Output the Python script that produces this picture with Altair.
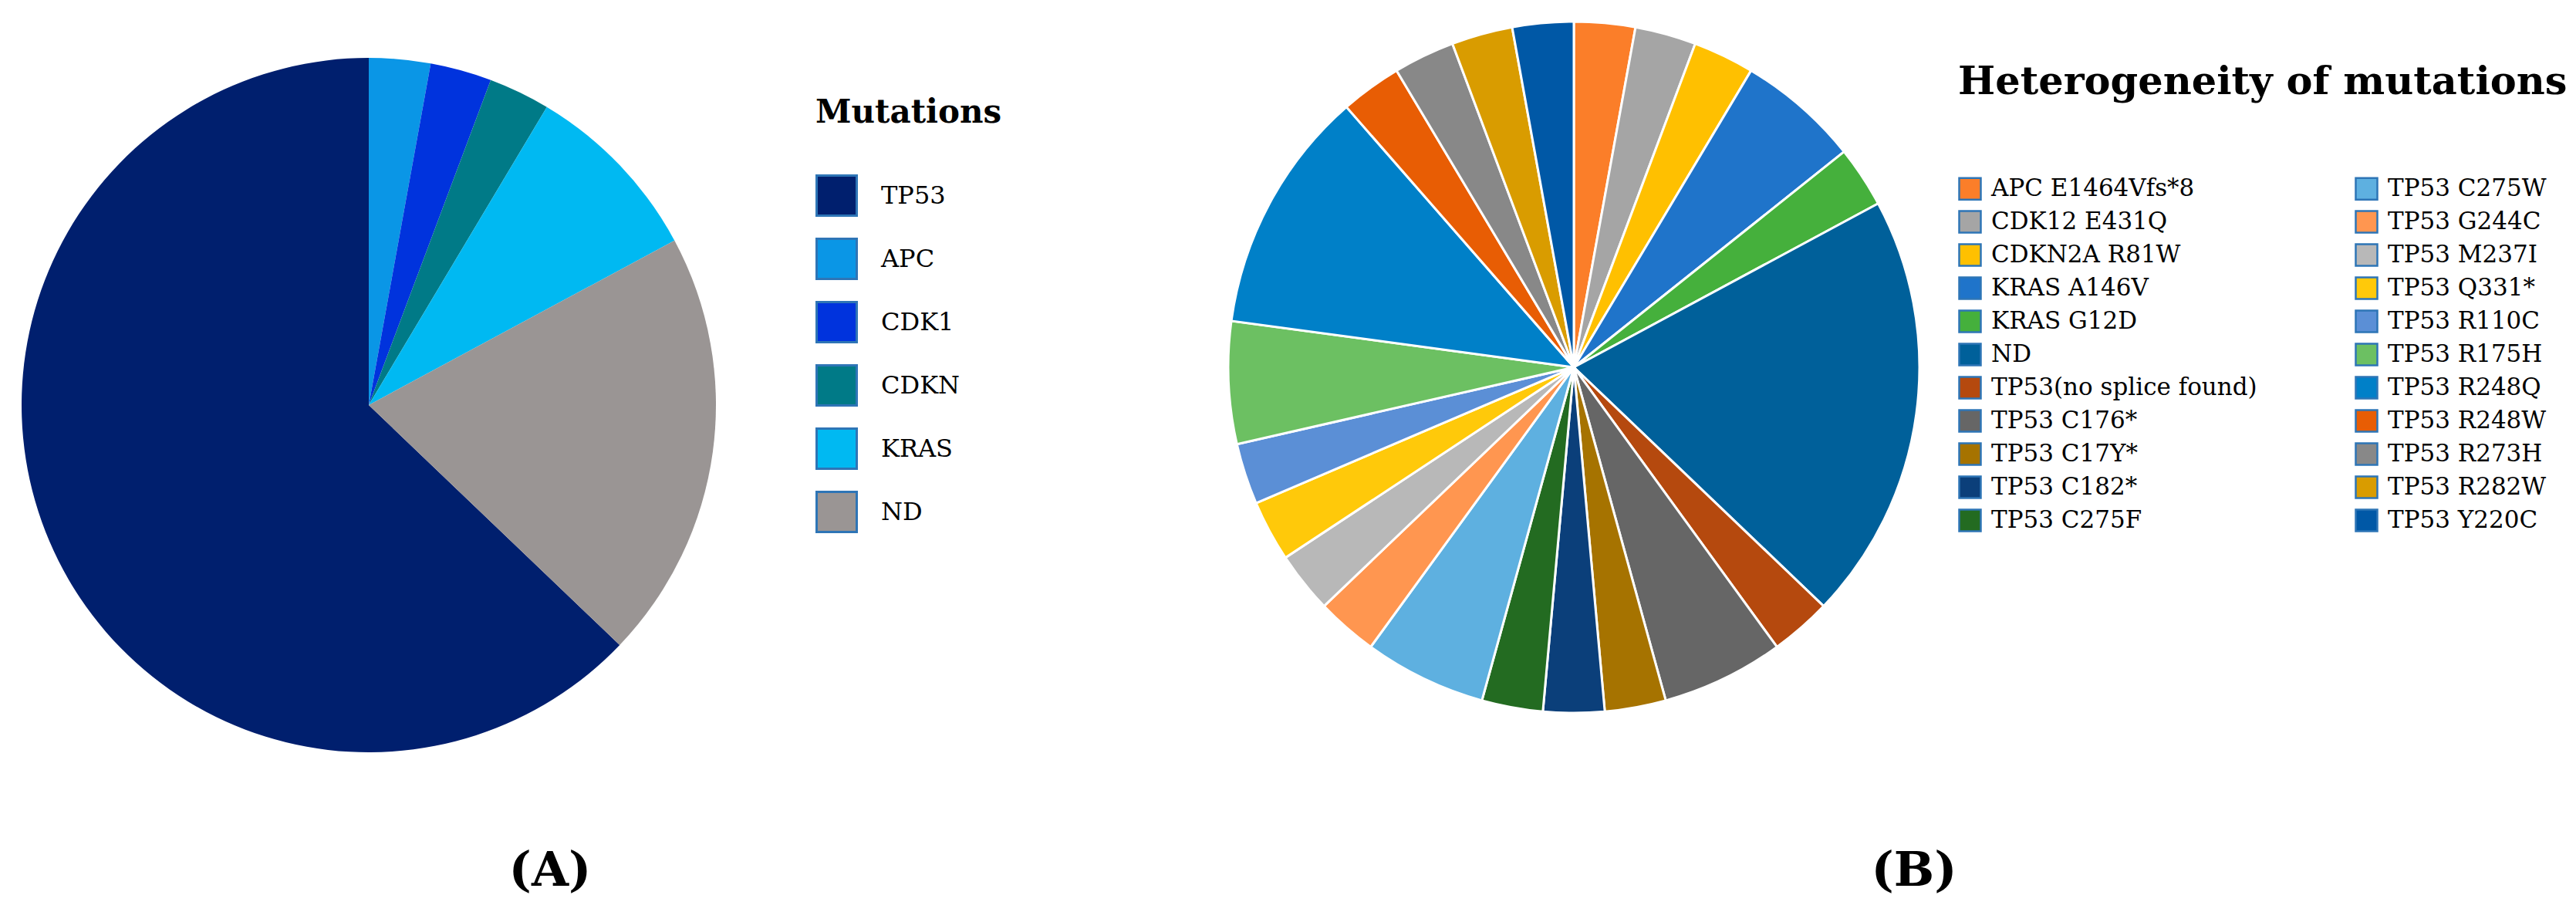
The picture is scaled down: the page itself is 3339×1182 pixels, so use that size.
import altair as alt
import pandas as pd

# ---------------- data ----------------
A_genes = ["TP53", "APC", "CDK1", "CDKN", "KRAS", "ND"]          # legend order
A_counts = [22, 1, 1, 1, 3, 7]
A_slice_pos = [6, 1, 2, 3, 4, 5]                                # clockwise from 12 o'clock
A_colors = ["#001F6E", "#0A96E6", "#0033DD", "#007A87", "#00B9F2", "#9A9594"]

B_mutations = [
    "APC E1464Vfs*8", "CDK12 E431Q", "CDKN2A R81W", "KRAS A146V", "KRAS G12D",
    "ND", "TP53(no splice found)", "TP53 C176*", "TP53 C17Y*", "TP53 C182*",
    "TP53 C275F", "TP53 C275W", "TP53 G244C", "TP53 M237I", "TP53 Q331*",
    "TP53 R110C", "TP53 R175H", "TP53 R248Q", "TP53 R248W", "TP53 R273H",
    "TP53 R282W", "TP53 Y220C",
]
B_counts = [1, 1, 1, 2, 1, 7, 1, 2, 1, 1, 1, 2, 1, 1, 1, 1, 2, 4, 1, 1, 1, 1]
B_colors = [
    "#FB7E29", "#A5A5A5", "#FFC000", "#1F74CA", "#45B03C",
    "#00609A", "#B5490E", "#666666", "#A67300", "#0B3F7A",
    "#236B21", "#5EB0E0", "#FF9650", "#B8B8B8", "#FFC90A",
    "#5B8FD6", "#6CC062", "#0080C8", "#E85D04", "#888888",
    "#D99C00", "#0058A6",
]

dfA = pd.DataFrame({"gene": A_genes, "n": A_counts, "pos": A_slice_pos})
dfB = pd.DataFrame({"mut": B_mutations, "n": B_counts, "pos": list(range(len(B_mutations)))})

SERIF = "DejaVu Serif"
BORDER = "#2E75B6"

legA = alt.Legend(
    title="Mutations", orient="none", legendX=1049, legendY=118,
    titleFont=SERIF, titleFontSize=42, titleFontWeight="bold", titleColor="black",
    titlePadding=58, titleLimit=2000, labelFont=SERIF, labelFontSize=32, labelColor="black",
    labelOffset=30, symbolType="square", symbolSize=52 * 52, rowPadding=17,
    labelLimit=600, symbolStrokeColor=BORDER, symbolStrokeWidth=3, symbolOpacity=1,
)

legB = alt.Legend(
    title="Heterogeneity of mutations", orient="none", legendX=2530, legendY=74,
    titleFont=SERIF, titleFontSize=51, titleFontWeight="bold", titleColor="black",
    titlePadding=96, titleLimit=2000, labelFont=SERIF, labelFontSize=31, labelColor="black",
    labelOffset=12, symbolType="square", symbolSize=28 * 28, rowPadding=4,
    columns=2, columnPadding=122, labelLimit=800,
    symbolStrokeColor=BORDER, symbolStrokeWidth=2.5, symbolOpacity=1,
)

pieA = alt.Chart(dfA).mark_arc(radius=450).encode(
    x=alt.value(470), y=alt.value(517),
    theta=alt.Theta("n:Q", stack=True),
    order=alt.Order("pos:Q"),
    color=alt.Color("gene:N", scale=alt.Scale(domain=A_genes, range=A_colors), legend=legA),
)

pieB = alt.Chart(dfB).mark_arc(radius=448, stroke="white", strokeWidth=3).encode(
    x=alt.value(2032), y=alt.value(468),
    theta=alt.Theta("n:Q", stack=True),
    order=alt.Order("pos:Q"),
    color=alt.Color("mut:N", scale=alt.Scale(domain=B_mutations, range=B_colors), legend=legB),
)

labA = alt.Chart(pd.DataFrame({"t": ["(A)"]})).mark_text(
    font=SERIF, fontSize=62, fontWeight="bold", color="black"
).encode(x=alt.value(705), y=alt.value(1121), text="t:N")

labB = alt.Chart(pd.DataFrame({"t": ["(B)"]})).mark_text(
    font=SERIF, fontSize=62, fontWeight="bold", color="black"
).encode(x=alt.value(2473), y=alt.value(1121), text="t:N")

chart = (
    alt.layer(pieA, pieB, labA, labB)
    .resolve_scale(color="independent", theta="independent")
    .properties(width=3323, height=1166, padding=0, autosize="none", background="white")
    .configure_view(stroke=None)
)

chart.save("out.html", embed_options={"renderer": "svg", "actions": False})
